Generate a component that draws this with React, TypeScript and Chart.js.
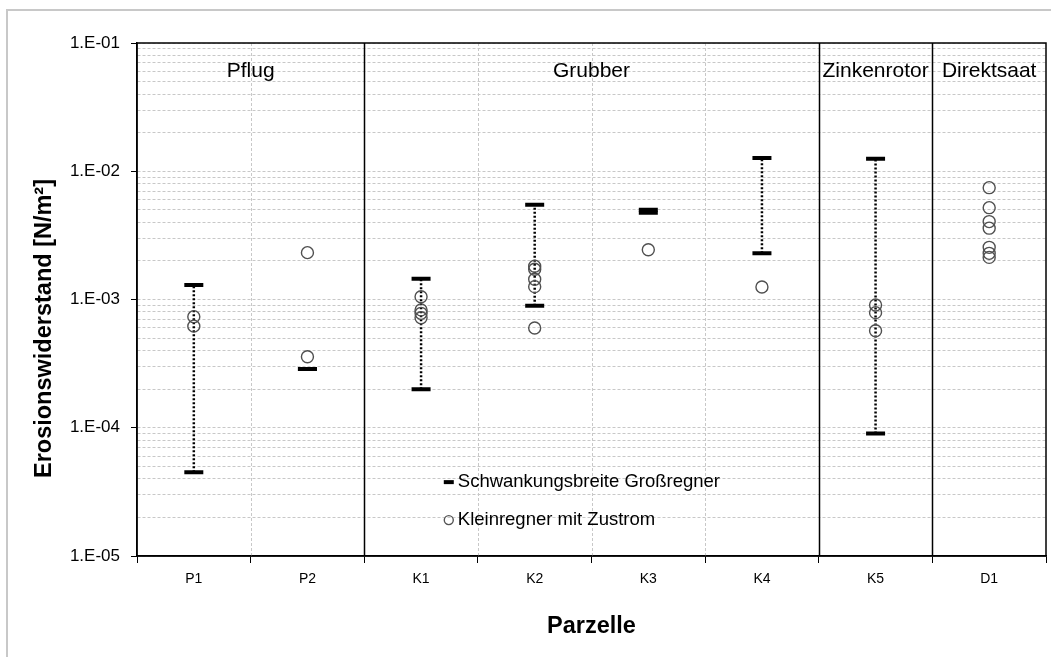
import React, { useEffect, useRef } from 'react';
import { Chart, registerables } from 'chart.js';

Chart.register(...registerables);

// ---------- data ----------
const categories = ['P1', 'P2', 'K1', 'K2', 'K3', 'K4', 'K5', 'D1'];

// Schwankungsbreite Großregner (min / max per plot)
const rangeLow: (number | null)[] = [4.5e-5, 2.87e-4, 2.0e-4, 8.95e-4, 4.75e-3, 2.29e-3, 9.0e-5, null];
const rangeHigh: (number | null)[] = [1.3e-3, 2.87e-4, 1.45e-3, 5.48e-3, 5.0e-3, 1.27e-2, 1.25e-2, null];

// Kleinregner mit Zustrom (single measurements per plot)
const smallP1 = [7.35e-4, 6.2e-4];
const smallP2 = [2.32e-3, 3.58e-4];
const smallK1 = [1.05e-3, 8.3e-4, 7.8e-4, 7.2e-4];
const smallK2 = [1.82e-3, 1.72e-3, 1.44e-3, 1.26e-3, 6.0e-4];
const smallK3 = [2.44e-3];
const smallK4 = [1.25e-3];
const smallK5 = [9.06e-4, 7.9e-4, 5.7e-4];
const smallD1 = [7.45e-3, 5.2e-3, 4.05e-3, 3.6e-3, 2.55e-3, 2.29e-3, 2.13e-3];
const smallRain = [smallP1, smallP2, smallK1, smallK2, smallK3, smallK4, smallK5, smallD1];

// y axis
const yDecades = [1e-5, 1e-4, 1e-3, 1e-2, 1e-1];
const yTickLabels = ['1.E-05', '1.E-04', '1.E-03', '1.E-02', '1.E-01'];
const yMinorMultipliers = [2, 3, 4, 5, 6, 7, 8, 9];

// groups of plots (tillage)
const groupNames = ['Pflug', 'Grubber', 'Zinkenrotor', 'Direktsaat'];
const groupFirst = [0, 2, 6, 7];
const groupLast = [1, 5, 6, 7];

const seriesRangeLabel = 'Schwankungsbreite Großregner';
const seriesSmallLabel = 'Kleinregner mit Zustrom';
const xTitle = 'Parzelle';
const yTitle = 'Erosionswiderstand [N/m²]';

const FONT = "'Liberation Sans', Arial, Helvetica, sans-serif";

const isDecade = (v: number) => yDecades.some((d) => Math.abs(d - v) / d < 1e-6);

export default function App() {
  const ref = useRef<HTMLCanvasElement | null>(null);

  useEffect(() => {
    if (!ref.current) return;

    const gridValues: number[] = [];
    yDecades.forEach((d, i) => {
      gridValues.push(d);
      if (i < yDecades.length - 1) yMinorMultipliers.forEach((m) => gridValues.push(Number((m * d).toPrecision(3))));
    });

    const rangeLine: any[] = [];
    const rangeEnds: any[] = [];
    categories.forEach((c, i) => {
      const lo = rangeLow[i];
      const hi = rangeHigh[i];
      if (lo == null || hi == null) return;
      rangeLine.push({ x: c, y: lo }, { x: c, y: hi }, { x: c, y: null });
      rangeEnds.push({ x: c, y: lo }, { x: c, y: hi });
    });
    const smallPts: any[] = [];
    categories.forEach((c, i) => smallRain[i].forEach((v) => smallPts.push({ x: c, y: v })));

    const boundary = (chart: any, i: number) => {
      const x = chart.scales.x;
      const step = x.getPixelForValue(1) - x.getPixelForValue(0);
      return x.getPixelForValue(i) - step / 2;
    };

    const decor = {
      id: 'decor',
      beforeDraw(chart: any) {
        const ctx = chart.ctx;
        ctx.save();
        ctx.fillStyle = '#ffffff';
        ctx.fillRect(0, 0, chart.width, chart.height);
        ctx.strokeStyle = '#c8c8c8';
        ctx.lineWidth = 2;
        ctx.beginPath();
        ctx.moveTo(7, chart.height);
        ctx.lineTo(7, 10);
        ctx.lineTo(chart.width, 10);
        ctx.stroke();
        ctx.restore();
      },
      beforeDatasetsDraw(chart: any) {
        const { ctx, chartArea: a } = chart;
        ctx.save();
        for (let i = 1; i < categories.length; i++) {
          const px = Math.round(boundary(chart, i)) + 0.5;
          const solid = groupFirst.includes(i);
          ctx.beginPath();
          if (solid) {
            ctx.setLineDash([]);
            ctx.strokeStyle = '#000';
            ctx.lineWidth = 1.5;
          } else {
            ctx.setLineDash([3, 2]);
            ctx.strokeStyle = '#c8c8c8';
            ctx.lineWidth = 1;
          }
          ctx.moveTo(px, a.top);
          ctx.lineTo(px, a.bottom);
          ctx.stroke();
        }
        ctx.setLineDash([]);
        ctx.strokeStyle = '#000';
        ctx.lineWidth = 1.5;
        ctx.strokeRect(a.left, a.top, a.right - a.left, a.bottom - a.top);
        ctx.restore();
      },
      afterDraw(chart: any) {
        const { ctx, chartArea: a } = chart;
        ctx.save();
        // group labels
        ctx.fillStyle = '#000';
        ctx.font = `21px ${FONT}`;
        ctx.textAlign = 'center';
        ctx.textBaseline = 'middle';
        groupNames.forEach((g, k) => {
          const x0 = boundary(chart, groupFirst[k]);
          const x1 = boundary(chart, groupLast[k] + 1);
          ctx.fillText(g, (x0 + x1) / 2, a.top + 28);
        });
        // legend
        const w = a.right - a.left;
        const h = a.bottom - a.top;
        const lx = a.left + 0.343 * w;
        const ly1 = a.top + 0.856 * h;
        const ly2 = a.top + 0.93 * h;
        ctx.strokeStyle = '#000';
        ctx.lineWidth = 4;
        ctx.beginPath();
        ctx.moveTo(lx - 5, ly1);
        ctx.lineTo(lx + 5, ly1);
        ctx.stroke();
        ctx.strokeStyle = '#555';
        ctx.lineWidth = 1.4;
        ctx.beginPath();
        ctx.arc(lx, ly2, 4.5, 0, Math.PI * 2);
        ctx.stroke();
        ctx.font = `18.5px ${FONT}`;
        ctx.textAlign = 'left';
        ctx.fillText(seriesRangeLabel, lx + 9, ly1);
        ctx.fillText(seriesSmallLabel, lx + 9, ly2);
        // y title
        ctx.translate(45, (a.top + a.bottom) / 2 + 29);
        ctx.rotate(-Math.PI / 2);
        ctx.font = `bold 23.5px ${FONT}`;
        ctx.textAlign = 'center';
        ctx.fillText(yTitle, 0, 0);
        ctx.restore();
      },
    };

    const chart = new Chart(ref.current, {
      type: 'line',
      data: {
        labels: categories,
        datasets: [
          {
            label: seriesSmallLabel,
            data: smallPts,
            showLine: false,
            pointStyle: 'circle',
            pointRadius: 6,
            pointBorderColor: '#505050',
            pointBackgroundColor: 'rgba(0,0,0,0)',
            pointBorderWidth: 1.4,
          },
          {
            label: seriesRangeLabel,
            data: rangeEnds,
            showLine: false,
            pointStyle: 'line',
            pointRadius: 9.5,
            pointBorderWidth: 4,
            pointBorderColor: '#000',
            pointBackgroundColor: '#000',
          },
          {
            label: 'range',
            data: rangeLine,
            showLine: true,
            spanGaps: false,
            borderColor: '#000',
            borderWidth: 2.5,
            borderDash: [2, 2],
            pointRadius: 0,
          },
        ] as any,
      },
      options: {
        animation: false,
        responsive: false,
        layout: { autoPadding: false, padding: { left: 0, right: 5, top: 43, bottom: 0 } },
        plugins: { legend: { display: false }, tooltip: { enabled: false } },
        events: [],
        scales: {
          x: {
            type: 'category',
            offset: true,
            grid: { offset: true, drawOnChartArea: false, drawTicks: true, tickLength: 7, color: '#000', lineWidth: 1 },
            border: { display: true, color: '#000', width: 1.5 },
            ticks: { font: { family: FONT, size: 14 }, color: '#000', padding: 8 },
            title: {
              display: true,
              text: xTitle,
              color: '#000',
              font: { family: FONT, size: 23.5, weight: 'bold' },
              padding: { top: 0, bottom: 16 },
            },
            afterFit: (s: any) => {
              s.height = 101;
              s.paddingLeft = 0;
              s.paddingRight = 0;
            },
          },
          y: {
            type: 'logarithmic',
            min: 1e-5,
            max: 1e-1,
            afterBuildTicks: (s: any) => {
              s.ticks = gridValues.map((v) => ({ value: v }));
            },
            afterFit: (s: any) => {
              s.width = 137;
              s.paddingTop = 0;
              s.paddingBottom = 0;
            },
            ticks: {
              autoSkip: false,
              font: { family: FONT, size: 17 },
              color: '#000',
              padding: 11,
              callback: (v: any) => {
                const i = yDecades.findIndex((d) => Math.abs(d - Number(v)) / d < 1e-6);
                return i >= 0 ? yTickLabels[i] : '';
              },
            },
            grid: {
              color: '#c8c8c8',
              lineWidth: 1,
              drawTicks: true,
              tickLength: 6,
              tickColor: (c: any) => (c.tick && isDecade(c.tick.value) ? '#000' : 'rgba(0,0,0,0)'),
            },
            border: { display: true, color: '#000', width: 1.5, dash: [3, 2] },
          },
        },
      } as any,
      plugins: [decor],
    });

    return () => chart.destroy();
  }, []);

  return (
    <div style={{ position: 'absolute', left: 0, top: 0, width: 1051, height: 657, background: '#fff' }}>
      <canvas ref={ref} width={1051} height={657} style={{ display: 'block', width: 1051, height: 657 }} />
    </div>
  );
}
